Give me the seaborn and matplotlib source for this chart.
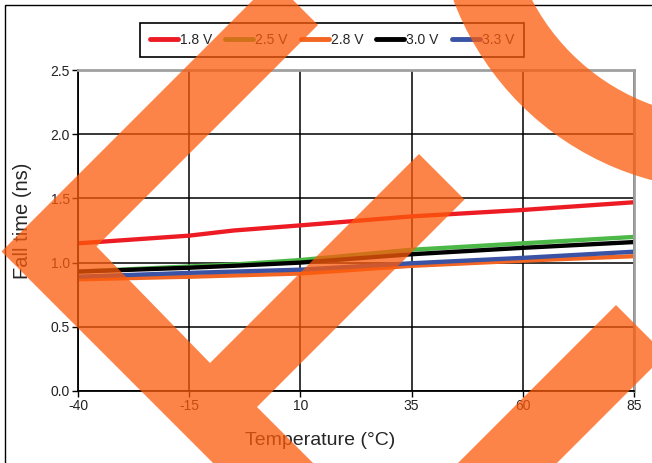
import numpy as np
import pandas as pd
import matplotlib
matplotlib.use("Agg")
import matplotlib.pyplot as plt
from matplotlib.patches import Polygon, Wedge, Rectangle
import seaborn as sns

# data
temps = [-40, -15, -5, 10, 35, 60, 85]
v18 = [1.15, 1.21, 1.25, 1.29, 1.36, 1.41, 1.47]
v25 = [0.93, 0.97, 0.985, 1.02, 1.10, 1.15, 1.20]
v28 = [0.87, 0.89, 0.90, 0.915, 0.975, 1.015, 1.05]
v30 = [0.93, 0.96, 0.975, 1.00, 1.065, 1.115, 1.16]
v33 = [0.89, 0.92, 0.93, 0.945, 0.995, 1.037, 1.085]
series_names = ["1.8 V", "2.5 V", "2.8 V", "3.0 V", "3.3 V"]
series_colors = ["#ed1c24", "#4cb848", "#f26522", "#000000", "#3a53a4"]
x_ticks = [-40, -15, 10, 35, 60, 85]
y_ticks = [0.0, 0.5, 1.0, 1.5, 2.0, 2.5]

rows = []
for name, vals in zip(series_names, [v18, v25, v28, v30, v33]):
    for t, v in zip(temps, vals):
        rows.append({"Temperature": t, "Fall time": v, "Supply": name})
df = pd.DataFrame(rows)

sns.set_style("white")
plt.rcParams["font.family"] = ["Liberation Sans", "DejaVu Sans"]

fig = plt.figure(figsize=(6.52, 4.63), dpi=100)
ax = fig.add_axes([78 / 652, 1 - 391 / 463, (634 - 78) / 652, (391 - 70) / 463])

sns.lineplot(data=df, x="Temperature", y="Fall time", hue="Supply",
             hue_order=series_names, palette=series_colors, linewidth=3.1,
             ax=ax, legend=False)

ax.set_xlim(-40, 85)
ax.set_ylim(0, 2.5)
ax.set_xticks(x_ticks)
ax.set_xticklabels([str(t) for t in x_ticks])
ax.set_yticks(y_ticks)
ax.set_yticklabels([f"{v:.1f}" for v in y_ticks])
ax.grid(True, color="black", linewidth=1.1)
ax.tick_params(direction="out", length=4, width=1, color="black",
               labelsize=10, labelcolor="#222222", pad=2, left=True, bottom=True)
for side in ["left", "bottom"]:
    ax.spines[side].set_color("black")
    ax.spines[side].set_linewidth(1.3)
for side in ["top", "right"]:
    ax.spines[side].set_color("#a0a0a0")
    ax.spines[side].set_linewidth(2)

ax.set_xlabel("Temperature (°C)", fontsize=14, color="#262626")
ax.set_ylabel("Fall time (ns)", fontsize=14.5, color="#262626")
ax.xaxis.set_label_coords(0.435, -0.153)
ax.yaxis.set_label_coords(-0.1, 0.53)
ax.xaxis.label.set_va("center")
ax.yaxis.label.set_va("center")

handles = [plt.Line2D([], [], color=c, linewidth=3.5) for c in series_colors]
leg = fig.legend(handles, series_names, loc="center", ncol=5,
                 bbox_to_anchor=(332 / 652, 1 - 40 / 463), fontsize=10,
                 handlelength=2.0, handletextpad=0.15, columnspacing=0.95,
                 borderpad=0.75, fancybox=False, framealpha=1)
leg.get_frame().set_edgecolor("black")
leg.get_frame().set_linewidth(1.2)

# overlay in pixel coordinates: page border and watermark
ov = fig.add_axes([0, 0, 1, 1], zorder=10)
ov.set_xlim(0, 652)
ov.set_ylim(463, 0)
ov.axis("off")
ov.patch.set_visible(False)
ov.add_patch(Rectangle((5, 5), 700, 500, fill=False, edgecolor="black", linewidth=1))

wm_color = "#fd5b0b"
wm_alpha = 0.75
zigzag = [(273, -20), (318, 25), (96.5, 246.5), (210, 363), (419, 154),
          (464.5, 199.5), (257, 407), (350, 500), (250, 500), (1.5, 251.5)]
ov.add_patch(Polygon(zigzag, closed=True, facecolor=wm_color, alpha=wm_alpha, edgecolor="none"))
ov.add_patch(Wedge((727, -102), 292, 0, 360, width=72, facecolor=wm_color,
                   alpha=wm_alpha, edgecolor="none"))
band = [(616, 305), (665.5, 354.5), (520, 500), (421, 500)]
ov.add_patch(Polygon(band, closed=True, facecolor=wm_color, alpha=wm_alpha, edgecolor="none"))

fig.savefig("out.png", dpi=100)
